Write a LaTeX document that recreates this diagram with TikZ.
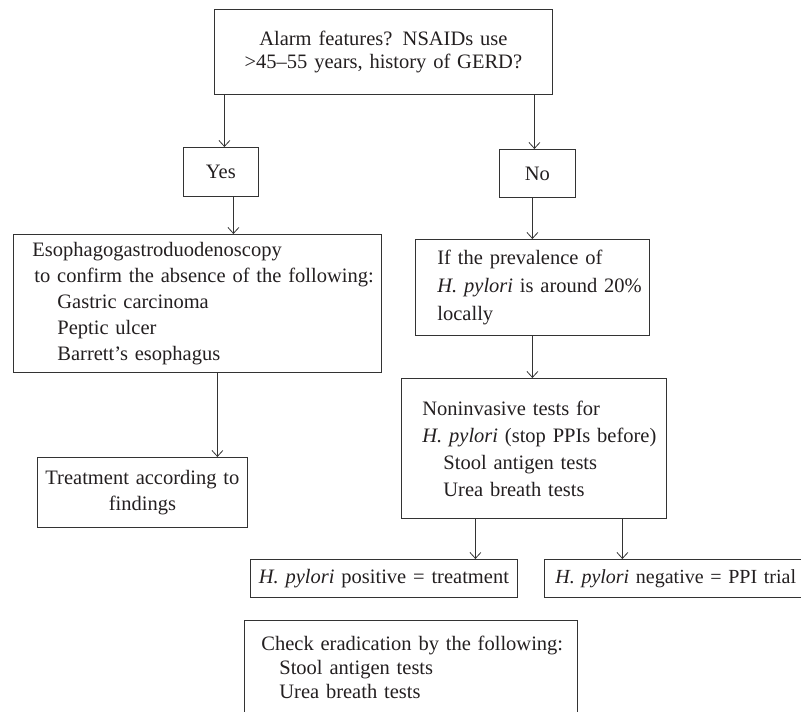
\documentclass[tikz,border=0pt]{standalone}
\usepackage{fontspec}
\setmainfont{Liberation Serif}
\usetikzlibrary{arrows.meta}
\definecolor{boxline}{HTML}{333333}
\definecolor{boxtext}{HTML}{231F20}
\tikzset{box/.style={draw=boxline, line width=0.8pt, inner sep=0pt, anchor=north west, align=left, text=boxtext}}
\tikzset{arr/.style={draw=boxline, line width=0.8pt, -{Straight Barb[length=6pt,width=11pt]}}}
\newcommand{\hp}{\emph{H. pylori}}
% one line of a box, indented from the left border
\newcommand{\li}[2]{\makebox[0pt][l]{\hspace*{#1}#2}}

\begin{document}
\begin{tikzpicture}[x=1pt, y=-1pt, font=\fontsize{20.5}{26}\selectfont]
  \clip (0,0) rectangle (801,712);

  \node[box, align=center, text width=338pt, minimum height=85pt,
        font=\fontsize{20.5}{23}\selectfont] (alarm) at (214,9)
        {Alarm features? NSAIDs use\\ >45--55 years, history of GERD?};
  \node[box, align=center, text width=75pt, minimum height=49pt] (yes) at (183,147) {Yes};
  \node[box, align=center, text width=76pt, minimum height=48pt] (no) at (499,149) {No};

  % left branch
  \node[box, text width=368pt, minimum height=138pt] (egd) at (13,234)
        {\li{19pt}{Esophagogastroduodenoscopy}\\
         \li{21pt}{to confirm the absence of the following:}\\
         \li{44pt}{Gastric carcinoma}\\
         \li{44pt}{Peptic ulcer}\\
         \li{44pt}{Barrett's esophagus}};
  \node[box, align=center, text width=210pt, minimum height=70pt] (treat) at (37,457)
        {Treatment according to\\ findings};

  % right branch
  \node[box, text width=234pt, minimum height=96pt,
        font=\fontsize{20.5}{28}\selectfont] (prev) at (415,239)
        {\li{22pt}{If the prevalence of}\\
         \li{22pt}{\hp{} is around 20\%}\\
         \li{22pt}{locally}};
  \node[box, text width=265pt, minimum height=140pt,
        font=\fontsize{20.5}{27}\selectfont] (nit) at (401,378)
        {\li{21pt}{Noninvasive tests for}\\
         \li{21pt}{\hp{} (stop PPIs before)}\\
         \li{42pt}{Stool antigen tests}\\
         \li{42pt}{Urea breath tests}};
  \node[box, align=center, text width=267pt, minimum height=38pt] (hpos) at (250,559)
        {\hp{} positive = treatment};
  \node[box, text width=300pt, minimum height=38pt,
        font=\fontsize{20}{26}\selectfont] (hneg) at (544,559)
        {\li{11pt}{\hp{} negative = PPI trial}};
  \node[box, text width=333pt, minimum height=94pt,
        font=\fontsize{20.5}{24}\selectfont] (check) at (244,620)
        {\li{17pt}{Check eradication by the following:}\\
         \li{35pt}{Stool antigen tests}\\
         \li{35pt}{Urea breath tests}};

  \draw[arr] ([xshift=3.5]yes.north |- alarm.south) -- ([xshift=3.5]yes.north);
  \draw[arr] ([xshift=-3]no.north |- alarm.south) -- ([xshift=-3]no.north);
  \draw[arr] ([xshift=12.5]yes.south) -- ([xshift=12.5]yes.south |- egd.north);
  \draw[arr] (prev.north |- no.south) -- (prev.north);
  \draw[arr] ([xshift=20]egd.south) -- ([xshift=20]egd.south |- treat.north);
  \draw[arr] (prev.south) -- (prev.south |- nit.north);
  \draw[arr] ([xshift=-58.5]nit.south) -- ([xshift=-58.5]nit.south |- hpos.north);
  \draw[arr] ([xshift=88.5]nit.south) -- ([xshift=88.5]nit.south |- hneg.north);
%  \draw[arr] (hpos.south) -- (check.north);
\end{tikzpicture}
\end{document}
